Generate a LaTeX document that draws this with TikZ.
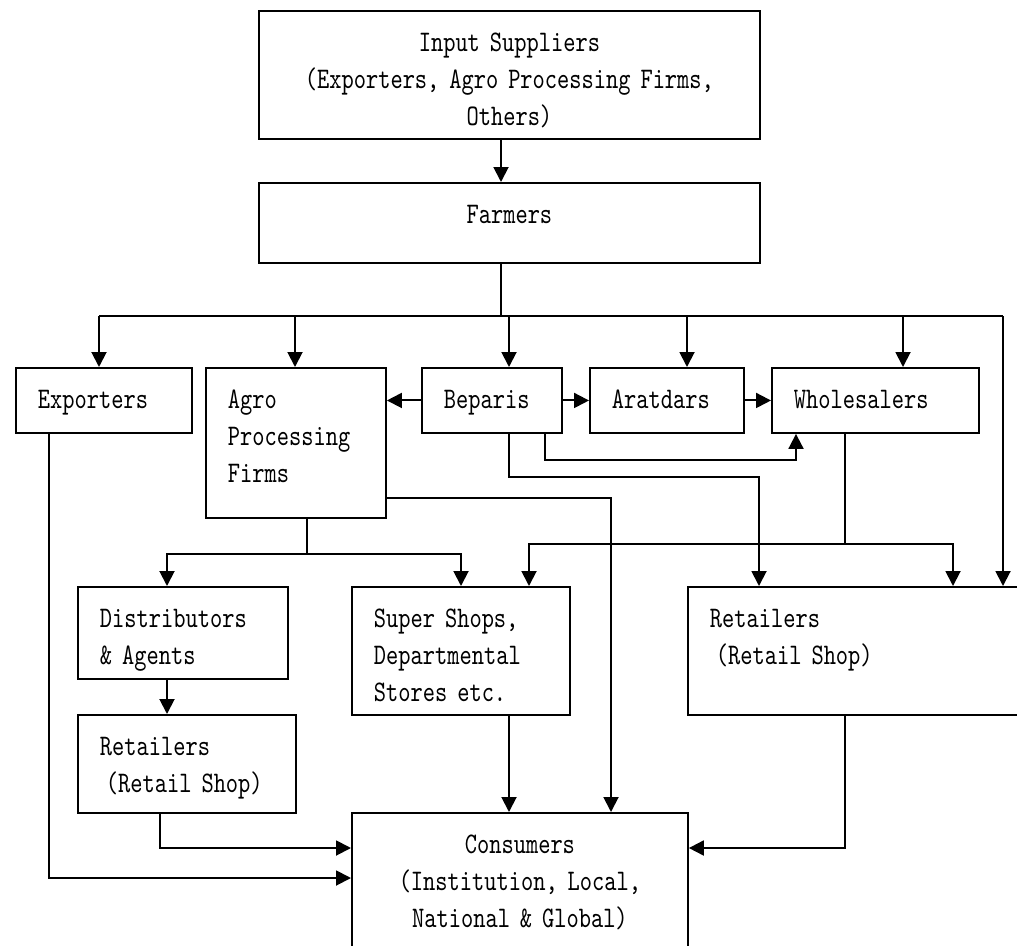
\documentclass[tikz,border=0pt]{standalone}
\usepackage{fontspec}
\usepackage{tikz}
\usetikzlibrary{arrows.meta, positioning, calc}
\newfontfamily\diagfont{lmmono10-regular.otf}[FakeStretch=0.78]

\begin{document}
\begin{tikzpicture}[
    x=0.02cm, y=-0.02cm,
    line width=1.1pt,
    box/.style={rectangle, draw, anchor=north west, inner ysep=0pt, inner xsep=0.44cm,
                text height=0.82cm, align=left, font=\diagfont\fontsize{17}{21}\selectfont},
    arrow/.style={-{Triangle[length=0.3cm, width=0.3cm]}},
]
\useasboundingbox (0,0) rectangle (1017,946);
\clip (0,0) rectangle (1017,946);

% Top
\node[box, align=center, text width=9.14cm, text depth=1.74cm] (sup) at (258,10) {Input Suppliers\\(Exporters, Agro Processing Firms,\\Others)};
\node[box, align=center, text width=9.14cm, text depth=0.78cm] (farm) at (258,182) {Farmers};

% Middle row
\node[box, text width=2.64cm, text depth=0.48cm] (exp) at (15,367) {Exporters};
\node[box, text width=2.72cm, text depth=2.18cm] (agro) at (205,367) {Agro\\Processing\\Firms};
\node[box, text width=1.92cm, text depth=0.48cm] (bep) at (421,367) {Beparis};
\node[box, text width=2.20cm, text depth=0.48cm] (arat) at (589,367) {Aratdars};
\node[box, text width=3.26cm, text depth=0.48cm] (whole) at (771,367) {Wholesalers};

% Lower rows
\node[box, text width=3.32cm, text depth=1.02cm] (dist) at (77,586) {Distributors\\\& Agents};
\node[box, text width=3.48cm, text depth=1.74cm] (super) at (351,586) {Super Shops,\\Departmental\\Stores etc.};
\node[box, text width=5.76cm, text depth=1.74cm] (retR) at (687,586) {Retailers\\\hspace*{0.12cm}(Retail Shop)};
\node[box, text width=3.48cm, text depth=1.14cm] (retL) at (77,714) {Retailers\\\hspace*{0.12cm}(Retail Shop)};

% Consumers
\node[box, align=center, text width=5.84cm, text depth=1.98cm] (cons) at (351,812) {Consumers\\(Institution, Local,\\National \& Global)};

% Junctions
\coordinate (trunk) at (501,316);
\coordinate (dExp) at (99,316);
\coordinate (dAgro) at (295,316);
\coordinate (dBep) at (509,316);
\coordinate (dArat) at (687,316);
\coordinate (dWhole) at (903,316);
\coordinate (dRet) at (1003,316);
\coordinate (b1) at (545,460);
\coordinate (b2) at (796,460);
\coordinate (c1) at (509,477);
\coordinate (c2) at (759,477);
\coordinate (a1) at (611,498);
\coordinate (w1) at (845,544);
\coordinate (w2) at (529,544);
\coordinate (w3) at (953,544);
\coordinate (g1) at (307,554);
\coordinate (g2) at (167,554);
\coordinate (g3) at (461,554);
\coordinate (s1) at (509,760);
\coordinate (r1) at (160,848);
\coordinate (e1) at (49,878);
\coordinate (r2) at (845,848);

% Farmers to the market
\draw[arrow] (sup.south -| trunk) -- (farm.north -| trunk);
\draw (farm.south -| trunk) -- (trunk);
\draw (dExp) -- (dRet);
\draw[arrow] (dExp) -- (dExp |- exp.north);
\draw[arrow] (dAgro) -- (dAgro |- agro.north);
\draw[arrow] (dBep) -- (dBep |- bep.north);
\draw[arrow] (dArat) -- (dArat |- arat.north);
\draw[arrow] (dWhole) -- (dWhole |- whole.north);
\draw[arrow] (dRet) -- (dRet |- retR.north);

% Traders
\draw[arrow] (bep.west) -- (bep.west -| agro.east);
\draw[arrow] (bep.east) -- (arat.west);
\draw[arrow] (arat.east) -- (whole.west);
\draw[arrow] (b1 |- bep.south) -- (b1) -- (b2) -- (b2 |- whole.south);
\draw[arrow] (c1 |- bep.south) -- (c1) -- (c2) -- (c2 |- retR.north);
\draw[arrow] (a1 -| agro.east) -- (a1) -- (a1 |- cons.north);
\draw (w1 |- whole.south) -- (w1);
\draw[arrow] (w1) -- (w2) -- (w2 |- super.north);
\draw[arrow] (w1) -- (w3) -- (w3 |- retR.north);

% Agro firms
\draw (g1 |- agro.south) -- (g1);
\draw[arrow] (g1) -- (g2) -- (g2 |- dist.north);
\draw[arrow] (g1) -- (g3) -- (g3 |- super.north);
\draw[arrow] (g2 |- dist.south) -- (g2 |- retL.north);

% To consumers
\draw[arrow] (s1 |- super.south) -- (s1 |- cons.north);
\draw[arrow] (r1 |- retL.south) -- (r1) -- (r1 -| cons.west);
\draw[arrow] (e1 |- exp.south) -- (e1) -- (e1 -| cons.west);
\draw[arrow] (r2 |- retR.south) -- (r2) -- (r2 -| cons.east);

\end{tikzpicture}
\end{document}
